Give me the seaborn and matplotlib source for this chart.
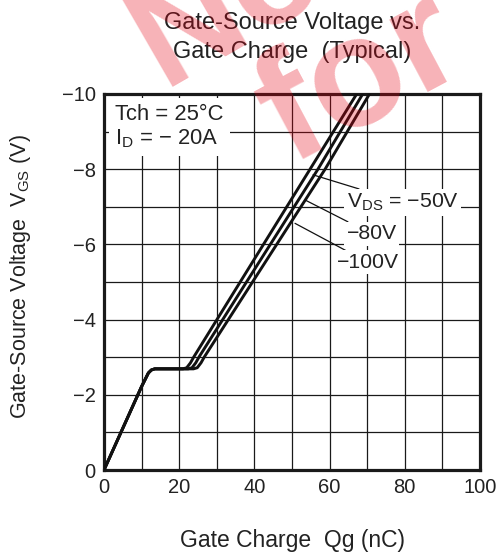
import numpy as np
import pandas as pd
import matplotlib
matplotlib.use("Agg")
import matplotlib.pyplot as plt
import seaborn as sns

# ---- data ----
vds_labels = ["-50V", "-80V", "-100V"]
qg_50 = [0, 10.0, 11.0, 11.8, 12.6, 13.5, 21.0, 22.0, 23.0, 23.9, 54.8, 67.2]
vgs_50 = [0, -2.22, -2.42, -2.58, -2.66, -2.69, -2.69, -2.72, -2.85, -3.01, -8.0, -10.0]
qg_80 = [0, 10.0, 11.0, 11.8, 12.6, 13.5, 22.4, 23.4, 24.4, 25.3, 56.9, 68.8]
vgs_80 = [0, -2.22, -2.42, -2.58, -2.66, -2.69, -2.69, -2.72, -2.85, -3.01, -8.0, -10.0]
qg_100 = [0, 10.0, 11.0, 11.8, 12.6, 13.5, 23.8, 24.8, 25.8, 26.7, 58.8, 70.6]
vgs_100 = [0, -2.22, -2.42, -2.58, -2.66, -2.69, -2.69, -2.72, -2.85, -3.01, -8.0, -10.0]

x_ticks = [0, 20, 40, 60, 80, 100]
y_ticks = [0, -2, -4, -6, -8, -10]

df = pd.concat([
    pd.DataFrame({"qg": qg_50, "vgs": vgs_50, "vds": vds_labels[0]}),
    pd.DataFrame({"qg": qg_80, "vgs": vgs_80, "vds": vds_labels[1]}),
    pd.DataFrame({"qg": qg_100, "vgs": vgs_100, "vds": vds_labels[2]}),
], ignore_index=True)

sns.set_theme(style="white")
plt.rcParams["font.family"] = ["Liberation Sans", "DejaVu Sans"]
plt.rcParams["mathtext.fontset"] = "custom"
plt.rcParams["mathtext.rm"] = "Liberation Sans"
plt.rcParams["axes.unicode_minus"] = True

fig = plt.figure(figsize=(4.98, 5.56), dpi=100)
W, H = 498, 556
ax = fig.add_axes([104 / W, (H - 470) / H, 376 / W, 376 / H])

sns.lineplot(data=df, x="qg", y="vgs", hue="vds", palette=["#111111"] * 3,
             estimator=None, sort=False, legend=False, linewidth=2.1, ax=ax,
             zorder=3)

ax.set_xlim(0, 100)
ax.set_ylim(0, -10)
ax.set_xticks(x_ticks)
ax.set_yticks(y_ticks)
ax.set_xticks(np.arange(0, 101, 10), minor=True)
ax.set_yticks(np.arange(0, -10.5, -1), minor=True)
ax.grid(True, which="both", color="#1a1a1a", linewidth=0.9)
ax.set_axisbelow(True)
ax.tick_params(which="both", length=0, labelsize=14.5, colors="#222222", pad=6)
for s in ax.spines.values():
    s.set_color("#1a1a1a")
    s.set_linewidth(2.3)
ax.set_xlabel("")
ax.set_ylabel("")

# labels
fig.text(293 / W, 1 - 541 / H, "Gate Charge  Qg (nC)", ha="center", va="center",
         fontsize=16.5, color="#222222")
fig.text(21 / W, 1 - 277 / H, "Gate-Source Voltage  V$_{\\mathregular{GS}}$ (V)",
         ha="center", va="center", rotation=90, fontsize=15.5, color="#222222")
fig.text(292 / W, 1 - 23 / H, "Gate-Source Voltage vs.", ha="center", va="center",
         fontsize=17, color="#222222")
fig.text(292 / W, 1 - 52 / H, "Gate Charge  (Typical)", ha="center", va="center",
         fontsize=17, color="#222222")

# condition box
ax.text(3.0, -9.12, "Tch = 25°C\nI$_{\\mathregular{D}}$ = \u2212 20A", ha="left", va="center",
        fontsize=15.8, color="#222222", linespacing=1.1, zorder=4,
        bbox=dict(boxstyle="square,pad=0.3", fc="white", ec="none"))

# V_DS annotations with leader lines
ann_text = ["V$_{\\mathregular{DS}}$ = \u221250V", "\u221280V", "\u2212100V"]
ann_xy_text = [(64.5, -7.12), (64.5, -6.28), (62.0, -5.52)]
ann_xy_tip = [(55.6, -7.85), (53.5, -7.18), (50.8, -6.56)]
for t, xt, tip in zip(ann_text, ann_xy_text, ann_xy_tip):
    ax.annotate(t, xy=tip, xytext=xt, ha="left", va="center", fontsize=15.3,
                color="#222222", zorder=5,
                bbox=dict(boxstyle="square,pad=0.12", fc="white", ec="none"),
                arrowprops=dict(arrowstyle="-", color="#111111", lw=0.9,
                                shrinkA=0, shrinkB=0))

# watermark (semi-transparent, drawn on top)
fig.text(228 / W, 1 - 6 / H, "No", ha="center", va="center", rotation=30,
         fontsize=105, fontweight="bold", color="#e60012", alpha=0.3)
fig.text(362 / W, 1 - 80 / H, "for", ha="center", va="center", rotation=28,
         fontsize=112, fontweight="bold", color="#e60012", alpha=0.3)

fig.savefig("out.png", dpi=100)
